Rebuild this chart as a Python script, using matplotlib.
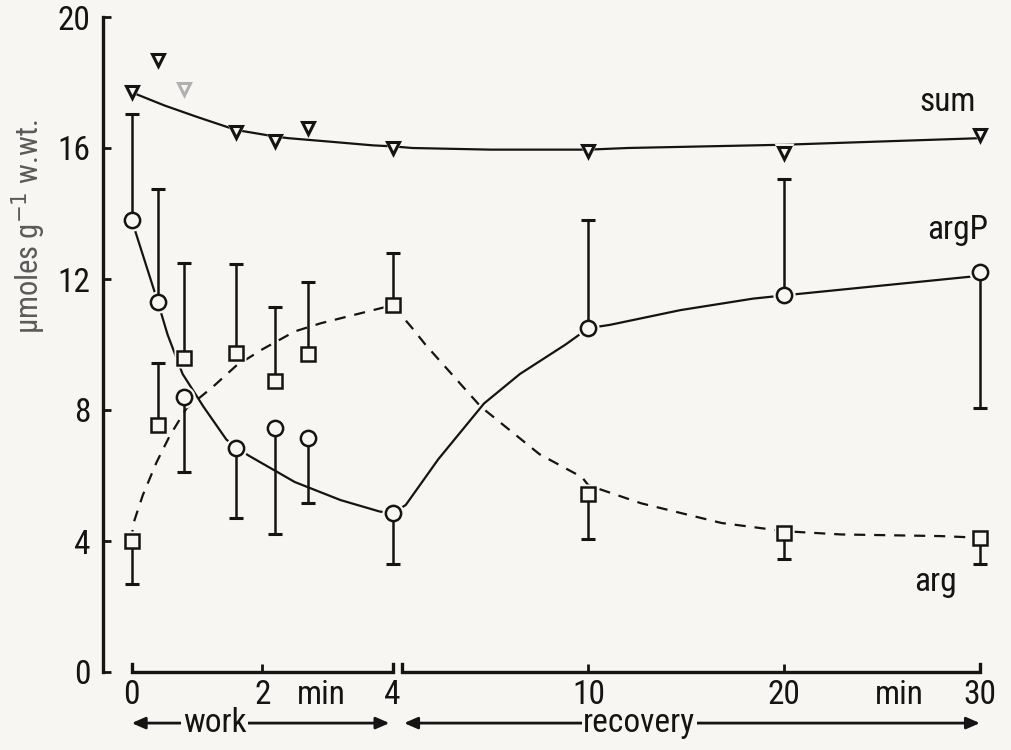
import numpy as np
import matplotlib
matplotlib.use("Agg")
import matplotlib.pyplot as plt
from matplotlib import font_manager

# time axis: 0-4 min work (linear), then 4/10/20/30 min recovery equally spaced
T_KNOTS = [-10, 0, 4, 10, 20, 30, 60]
P_KNOTS = [-10, 0, 4, 7, 10, 13, 22]

# measured points (time in min, umol/g)
sum_t = [0, 0.4, 0.8, 1.6, 2.2, 2.7, 4, 10, 20, 30]
sum_v = [17.7, 18.7, 17.8, 16.5, 16.2, 16.6, 16.0, 15.9, 15.85, 16.4]
sum_faded = [2]

argp_t = [0, 0.4, 0.8, 1.6, 2.2, 2.7, 4, 10, 20, 30]
argp_v = [13.8, 11.3, 8.4, 6.85, 7.45, 7.15, 4.85, 10.5, 11.5, 12.2]
argp_err = [17.05, 14.75, 6.1, 4.7, 4.2, 5.15, 3.3, 13.8, 15.05, 8.05]

arg_t = [0, 0.4, 0.8, 1.6, 2.2, 2.7, 4, 10, 20, 30]
arg_v = [4.0, 7.55, 9.6, 9.75, 8.9, 9.7, 11.2, 5.45, 4.25, 4.1]
arg_err = [2.7, 9.45, 12.5, 12.45, 11.15, 11.9, 12.8, 4.05, 3.45, 3.3]

# hand drawn trend curves
sum_curve_t = [0, 0.5, 1.0, 1.3, 1.6, 2.2, 2.4, 3.0, 3.7, 4, 4.6, 7, 10, 12, 16, 20, 25, 30]
sum_curve_v = [17.7, 17.3, 16.95, 16.75, 16.55, 16.35, 16.3, 16.2, 16.08, 16.05, 16.0,
               15.95, 15.95, 16.0, 16.05, 16.1, 16.2, 16.3]

argp_curve_t = [0, 0.4, 0.55, 0.78, 1.1, 1.45, 1.6, 1.8, 2.5, 3.2, 3.8, 4, 4.4, 5.4,
                6.8, 7.9, 9.3, 10, 11.1, 14.7, 18.4, 20, 25, 30]
argp_curve_v = [13.8, 11.3, 10.3, 9.1, 8.1, 7.1, 6.85, 6.6, 5.8, 5.25, 4.9, 4.85, 5.1,
                6.5, 8.2, 9.1, 10.0, 10.5, 10.6, 11.05, 11.4, 11.5, 11.8, 12.1]

arg_curve_t = [0, 0.02, 0.17, 0.38, 0.58, 0.84, 1.24, 1.6, 2.0, 2.5, 2.9, 3.4, 3.8, 4,
               4.6, 5.0, 6.7, 8.5, 9.8, 10, 12.7, 16.8, 20, 22.9, 28, 30]
arg_curve_v = [4.0, 4.5, 5.4, 6.4, 7.2, 8.05, 8.7, 9.35, 9.85, 10.4, 10.65, 10.9, 11.1, 11.2,
               10.5, 10.0, 8.1, 6.65, 5.95, 5.7, 5.15, 4.55, 4.3, 4.2, 4.15, 4.1]

y_ticks = [0, 4, 8, 12, 16, 20]
x_ticks = [0, 2, 4, 10, 20, 30]
x_ticklabels = ["0", "2", "4", "10", "20", "30"]

BG = "#f8f6f3"
INK = "#141414"
FS = 24

# prefer a narrow face like the original lettering
installed = {f.name for f in font_manager.fontManager.ttflist}
narrow = [n for n in ["Liberation Sans Narrow", "DejaVu Sans Condensed", "Roboto Condensed"]
          if n in installed]
FONT = narrow[:1] + ["DejaVu Sans"]
plt.rcParams["font.family"] = FONT
if not narrow:
    plt.rcParams["font.stretch"] = "condensed"


def fwd(t):
    return np.interp(t, T_KNOTS, P_KNOTS)


def inv(p):
    return np.interp(p, P_KNOTS, T_KNOTS)


fig = plt.figure(figsize=(10.12, 7.5), dpi=100, facecolor=BG)
ax = fig.add_axes([103 / 1012, 1 - 672 / 750, (995 - 103) / 1012, 655 / 750])
ax.set_facecolor(BG)
ax.set_xscale("function", functions=(fwd, inv))
ax.set_xlim(-0.44, 30.77)
ax.set_ylim(0, 20)

# curves
ax.plot(sum_curve_t, sum_curve_v, color=INK, lw=1.6, zorder=2)
ax.plot(argp_curve_t, argp_curve_v, color=INK, lw=1.6, zorder=2)
ax.plot(arg_curve_t, arg_curve_v, color=INK, lw=1.6, ls=(0, (5, 4)), zorder=2)

# halos so lines stop short of the symbols
for t, v, m, s in [(sum_t, sum_v, "v", 14), (argp_t, argp_v, "o", 16), (arg_t, arg_v, "s", 15)]:
    ax.plot(t, v, ls="none", marker=m, ms=s, mfc=BG, mec="none", zorder=3)

# one sided error bars with caps
for t, v, e in [(argp_t, argp_v, argp_err), (arg_t, arg_v, arg_err)]:
    ax.vlines(t, v, e, color=INK, lw=1.8, zorder=3.5)
    ax.plot(t, e, ls="none", marker="_", ms=10, mew=2.2, color=INK, zorder=3.5)

# symbols
sum_col = [("#b0b0b0" if i in sum_faded else INK) for i in range(len(sum_t))]
for t, v, c in zip(sum_t, sum_v, sum_col):
    ax.plot(t, v, ls="none", marker="v", ms=9, mfc=BG, mec=c, mew=2.2, zorder=4)
ax.plot(argp_t, argp_v, ls="none", marker="o", ms=11, mfc=BG, mec=INK, mew=1.8, zorder=4)
ax.plot(arg_t, arg_v, ls="none", marker="s", ms=10, mfc=BG, mec=INK, mew=1.8, zorder=4)

# series labels
ax.text(29.8, 17.4, "sum", ha="right", va="center", fontsize=FS, color=INK)
ax.text(30.4, 13.5, "argP", ha="right", va="center", fontsize=FS, color=INK)
ax.text(28.8, 2.75, "arg", ha="right", va="center", fontsize=FS, color=INK)

# axes styling
for s in ["top", "right", "bottom"]:
    ax.spines[s].set_visible(False)
ax.spines["left"].set_linewidth(2.4)
ax.spines["left"].set_color(INK)
ax.spines["left"].set_bounds(0, 20)
ax.set_yticks(y_ticks)
ax.tick_params(axis="y", direction="in", length=6, width=2, pad=9, labelsize=FS, colors=INK)
ax.set_xticks(x_ticks)
ax.set_xticklabels(x_ticklabels)
ax.tick_params(axis="x", direction="in", length=6, width=2, pad=5, labelsize=FS, colors=INK)

# split x axis line
xt = ax.get_xaxis_transform()
for a, b in [(0, 4), (4.3, 30)]:
    ax.plot([a, a, b, b], [0.012, 0, 0, 0.012], color=INK, lw=2.4, transform=xt,
            clip_on=False, solid_joinstyle="miter")
ax.text(2.9, -0.0105, "min", transform=xt, ha="center", va="top", fontsize=FS, color=INK)
ax.text(25.9, -0.0105, "min", transform=xt, ha="center", va="top", fontsize=FS, color=INK)

# work / recovery arrows
arr = dict(arrowstyle="<|-|>,head_length=0.8,head_width=0.35", color=INK, lw=2,
           shrinkA=0, shrinkB=0)
for a, b, label, mid in [(0, 3.95, "work", 1.27), (4.35, 30, "recovery", 12.6)]:
    ax.annotate("", xy=(a, -0.078), xytext=(b, -0.078), xycoords=xt, textcoords=xt,
                arrowprops=arr, annotation_clip=False)
    ax.text(mid, -0.078, label, transform=xt, ha="center", va="center", fontsize=FS,
            color=INK, bbox=dict(boxstyle="square,pad=0.05", fc=BG, ec="none"))

# y label
ax.text(-0.083, 0.68, "µmoles g$^{-1}$ w.wt.", transform=ax.transAxes, rotation=90,
        ha="center", va="center", fontsize=22, color="#5a5a5a")

fig.savefig("out.png", dpi=100, facecolor=BG)
